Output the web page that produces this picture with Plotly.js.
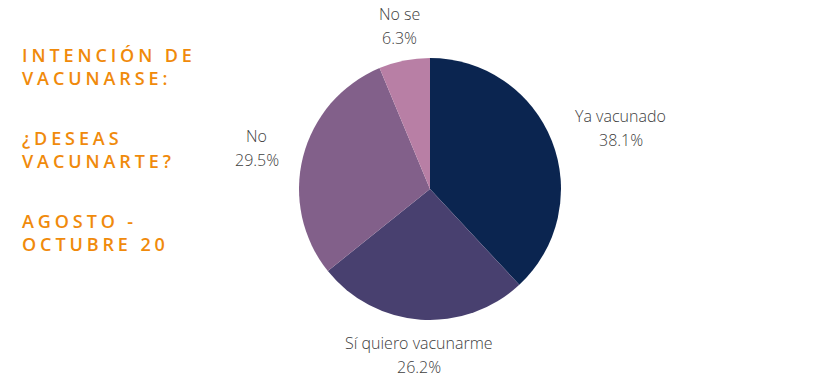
<!DOCTYPE html>
<html>
<head>
<meta charset="utf-8">
<script src="https://cdn.plot.ly/plotly-3.0.1.min.js"></script>
<style>
html,body{margin:0;padding:0;background:#fff;}
#chart{width:840px;height:378px;}
.title-ann .annotation-text{letter-spacing:3.9px;}
</style>
</head>
<body>
<div id="chart"></div>
<script>
const categories = ["Ya vacunado", "Sí quiero vacunarme", "No", "No se"];
const values = [38.1, 26.2, 29.5, 6.3];
const colors = ["#0b2550", "#48406f", "#82608a", "#b87fa5"];
const titleBlocks = ["INTENCIÓN DE<br>VACUNARSE:", "¿DESEAS<br>VACUNARTE?", "AGOSTO -<br>OCTUBRE 20"];

const W = 840, H = 378;
const cx = 430, cy = 189, r = 131;
const labelRx = 156, labelRy = 166, lineGap = 24;
const labelFont = {family: "Open Sans", size: 16, color: "#404040", weight: 300};

const data = [{
  type: "pie",
  labels: categories,
  values: values,
  sort: false,
  direction: "clockwise",
  rotation: 0,
  marker: {colors: colors, line: {width: 0}},
  textinfo: "none",
  hoverinfo: "none",
  domain: {x: [(cx - r) / W, (cx + r) / W], y: [(H - cy - r) / H, (H - cy + r) / H]},
  showlegend: false
}];

// measure label widths to centre the two lines of each label
const ctx = document.createElement("canvas").getContext("2d");
ctx.font = "300 16px 'Open Sans'";

// outside labels placed around the mid-angle of each slice (computed from the data)
const total = values.reduce((a, b) => a + b, 0);
let cum = 0;
const labelAnns = [];
categories.forEach((c, i) => {
  const mid = (cum + values[i] / 2) / total * 2 * Math.PI;
  cum += values[i];
  const s = Math.sin(mid), co = Math.cos(mid);
  const valText = values[i].toFixed(1) + "%";
  const w = Math.max(ctx.measureText(c).width, ctx.measureText(valText).width);
  let x = cx + labelRx * s;
  if (s > 0.4) x += w / 2; else if (s < -0.4) x -= w / 2;
  const yc = cy - labelRy * co;
  [[c, yc - lineGap / 2], [valText, yc + lineGap / 2]].forEach(([t, y]) => {
    labelAnns.push({
      text: t,
      xref: "paper", yref: "paper",
      x: x / W, y: 1 - y / H,
      xanchor: "center", yanchor: "middle",
      showarrow: false,
      borderpad: 0,
      font: labelFont
    });
  });
});

const titleY = [66, 149, 232];
const titleAnns = titleBlocks.map((t, i) => ({
  text: t,
  xref: "paper", yref: "paper",
  x: 20 / W, y: 1 - titleY[i] / H,
  xanchor: "left", yanchor: "middle",
  align: "left",
  showarrow: false,
  font: {family: "Open Sans", size: 18, color: "#f08a0b", weight: 600}
}));

const layout = {
  width: W, height: H,
  margin: {l: 0, r: 0, t: 0, b: 0},
  paper_bgcolor: "#fff",
  annotations: labelAnns.concat(titleAnns)
};

Plotly.newPlot("chart", data, layout, {displayModeBar: false, staticPlot: true}).then(() => {
  const nodes = document.querySelectorAll("#chart .annotation");
  nodes.forEach((n, i) => { if (i >= labelAnns.length) n.classList.add("title-ann"); });
});
</script>
</body>
</html>
